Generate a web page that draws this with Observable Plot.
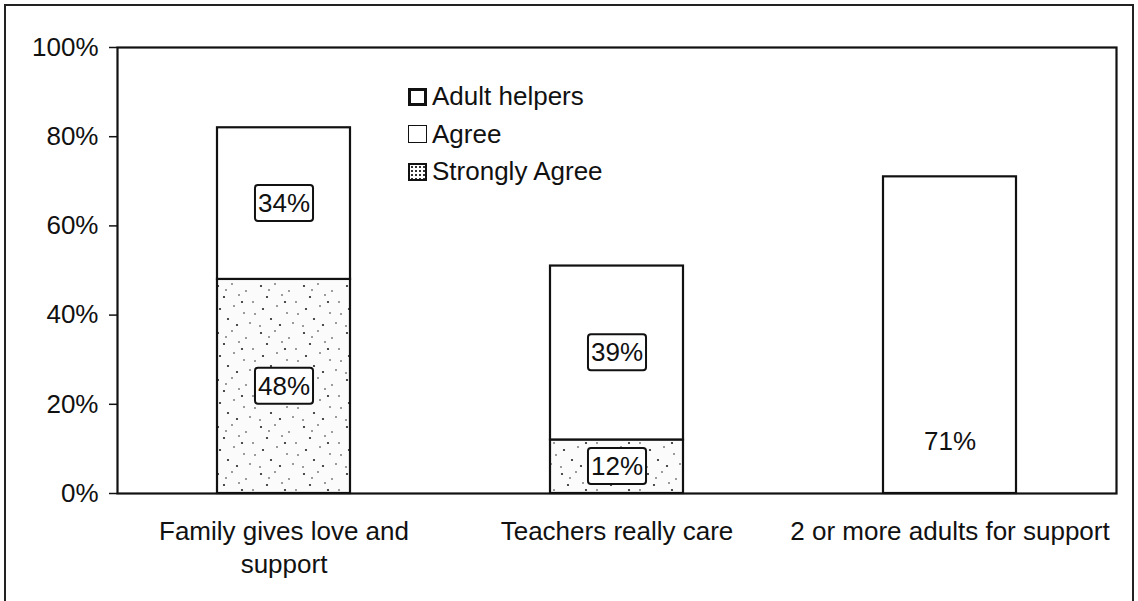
<!DOCTYPE html>
<html><head><meta charset="utf-8">
<script src="https://cdn.jsdelivr.net/npm/d3@7"></script>
<script src="https://cdn.jsdelivr.net/npm/@observablehq/plot@0.6"></script>
<style>
body{margin:0;background:#fff;font-family:"Liberation Sans",Arial,sans-serif;}
#wrap{position:relative;width:1138px;height:601px;overflow:hidden;background:#fff}
#wrap svg{position:absolute;left:0;top:0}
#border{position:absolute;left:4px;top:4px;width:1130px;height:700px;border:2px solid #222;box-sizing:border-box;pointer-events:none}
#legend{position:absolute;left:408px;top:78px;font-size:26px;color:#111;line-height:37.5px}
.li{display:flex;align-items:center;height:37.5px}
.sw{width:19px;height:18px;box-sizing:border-box;margin-right:5px;background:#fff}
</style></head>
<body><div id="wrap"><div id="legend"></div><div id="border"></div></div>
<script>
const categories = ["Family gives love and support", "Teachers really care", "2 or more adults for support"];
const seriesNames = ["Strongly Agree", "Agree", "Adult helpers"];
const stronglyAgree = [48, 12, null];
const agree = [34, 39, null];
const adultHelpers = [null, null, 71];
const yTicks = [0, 20, 40, 60, 80, 100];
const adultLabelAt = 11.7; // label height
const legendOrder = ["Adult helpers", "Agree", "Strongly Agree"];

const rows = [];
categories.forEach((c, i) => {
  if (stronglyAgree[i] != null) rows.push({category: c, series: "Strongly Agree", value: stronglyAgree[i]});
  if (agree[i] != null) rows.push({category: c, series: "Agree", value: agree[i]});
  if (adultHelpers[i] != null) rows.push({category: c, series: "Adult helpers", value: adultHelpers[i]});
});
const boxedRows = rows.filter(d => d.series !== "Adult helpers");
const adultRows = rows.filter(d => d.series === "Adult helpers");

const wrapLabel = {"Family gives love and support": "Family gives love and\nsupport"};

const chart = Plot.plot({
  width: 1138, height: 601,
  marginLeft: 117, marginRight: 22, marginTop: 47, marginBottom: 108,
  style: {fontFamily: "'Liberation Sans', Arial, sans-serif", fontSize: "26px", background: "transparent", color: "#111"},
  x: {domain: categories, paddingInner: 0.6, paddingOuter: 0.3, label: null, axis: null},
  y: {domain: [0, 100], label: null, axis: null},
  color: {domain: seriesNames, range: ["url(#stipple)", "white", "white"]},
  marks: [
    Plot.axisY({ticks: yTicks, tickFormat: d => d + "%", tickSize: 8, tickPadding: 11, stroke: "#111", strokeWidth: 1.5}),
    Plot.axisX({tickSize: 0, tickPadding: 24, lineHeight: 1.24, tickFormat: d => wrapLabel[d] || d}),
    Plot.barY(rows, {x: "category", y: "value", fill: "series", stroke: "#111", strokeWidth: 2.2}),
    Plot.frame({stroke: "#111", strokeWidth: 2.2}),
    Plot.text(boxedRows, Plot.stackY({x: "category", y: "value", text: d => d.value + "%", className: "boxed", fill: "#111"})),
    Plot.text(adultRows, {x: "category", y: () => adultLabelAt, text: d => d.value + "%", fill: "#111"})
  ]
});

// stipple pattern (decorative texture)
const ns = "http://www.w3.org/2000/svg";
const defs = document.createElementNS(ns, "defs");
const pat = document.createElementNS(ns, "pattern");
pat.setAttribute("id", "stipple");
pat.setAttribute("width", "43"); pat.setAttribute("height", "47");
pat.setAttribute("patternUnits", "userSpaceOnUse");
const bg = document.createElementNS(ns, "rect");
bg.setAttribute("width", "43"); bg.setAttribute("height", "47"); bg.setAttribute("fill", "#fbfbfb");
pat.appendChild(bg);
const dots = [[3,4],[17,2],[31,9],[9,15],[24,13],[38,20],[5,27],[19,24],[29,31],[13,37],[35,41],[2,44],[22,43],[40,32],[11,8],[27,20]];
dots.forEach(([x, y], k) => {
  const c = document.createElementNS(ns, "circle");
  c.setAttribute("cx", x); c.setAttribute("cy", y); c.setAttribute("r", k % 3 === 0 ? 1.1 : 0.8);
  c.setAttribute("fill", "#222");
  pat.appendChild(c);
});
defs.appendChild(pat);
chart.insertBefore(defs, chart.firstChild);

const wrap = document.getElementById("wrap");
wrap.insertBefore(chart, wrap.firstChild);

// boxes behind stacked labels
chart.querySelectorAll("g.boxed text").forEach(t => {
  const bb = t.getBBox();
  const r = document.createElementNS(ns, "rect");
  r.setAttribute("x", bb.x - 3); r.setAttribute("y", bb.y + bb.height / 2 - 18);
  r.setAttribute("width", bb.width + 6); r.setAttribute("height", 36);
  r.setAttribute("rx", 3);
  if (t.getAttribute("transform")) r.setAttribute("transform", t.getAttribute("transform"));
  r.setAttribute("fill", "white"); r.setAttribute("stroke", "#111"); r.setAttribute("stroke-width", 2);
  t.parentNode.insertBefore(r, t);
});

// legend
const legend = document.getElementById("legend");
legendOrder.forEach(name => {
  const row = document.createElement("div"); row.className = "li";
  const sw = document.createElement("div"); sw.className = "sw";
  if (name === "Adult helpers") sw.style.border = "3px solid #111";
  else if (name === "Agree") sw.style.border = "1.5px solid #111";
  else { sw.style.border = "2.5px solid #111"; sw.style.background = "radial-gradient(#333 0.8px, #fff 1px) 0 0/4px 4px"; }
  const tx = document.createElement("span"); tx.textContent = name;
  row.appendChild(sw); row.appendChild(tx);
  legend.appendChild(row);
});
</script>
</body></html>
